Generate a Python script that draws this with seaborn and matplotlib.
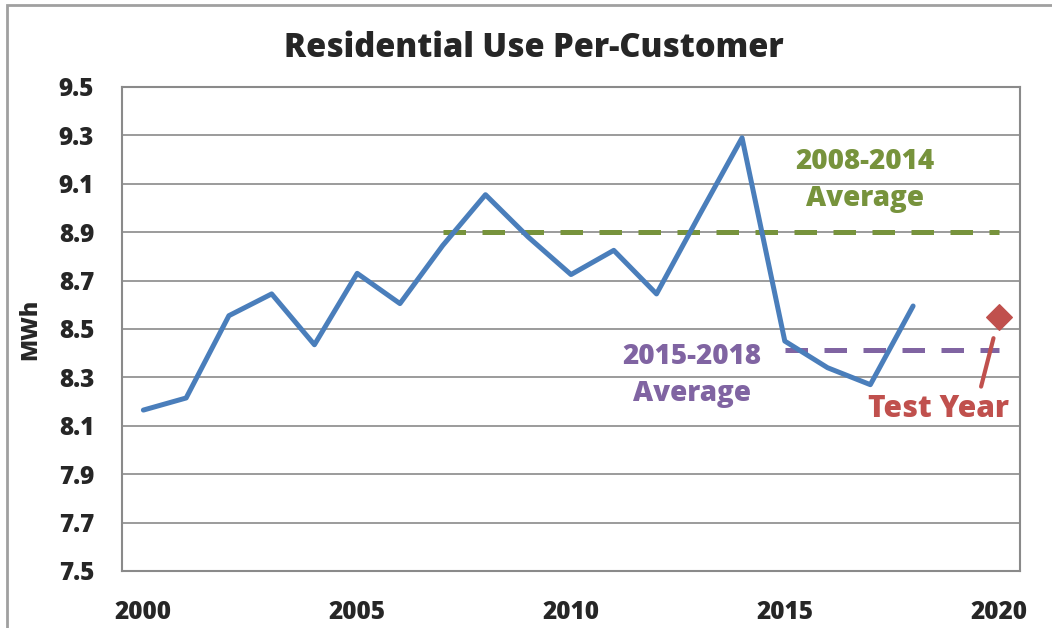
import pandas as pd
import seaborn as sns
import matplotlib.pyplot as plt
from matplotlib.patches import Rectangle

# residential use per customer (MWh), plotted at mid-year
years = [2000.5, 2001.5, 2002.5, 2003.5, 2004.5, 2005.5, 2006.5, 2007.5, 2008.5, 2009.5,
         2010.5, 2011.5, 2012.5, 2013.5, 2014.5, 2015.5, 2016.5, 2017.5, 2018.5]
use_mwh = [8.165, 8.215, 8.555, 8.645, 8.435, 8.73, 8.605, 8.845, 9.055, 8.88,
           8.725, 8.825, 8.645, 8.97, 9.29, 8.45, 8.34, 8.27, 8.595]

avg_0814_span = [2007.5, 2020.5]
avg_0814 = 8.9
avg_1518_span = [2015.5, 2020.5]
avg_1518 = 8.413
test_year = 2020.5
test_value = 8.548

xticks = [2000, 2005, 2010, 2015, 2020]
yticks = [7.5, 7.7, 7.9, 8.1, 8.3, 8.5, 8.7, 8.9, 9.1, 9.3, 9.5]

blue = "#4a7ebb"
green = "#77933c"
purple = "#8064a2"
red = "#c0504d"
grid = "#8a8a8a"
W = "extra bold"

sns.set_style("white")
plt.rcParams['font.family'] = ['Open Sans', 'DejaVu Sans']
plt.rcParams['font.weight'] = 'bold'

df = pd.DataFrame({"year": years, "MWh": use_mwh})

fig = plt.figure(figsize=(10.52, 6.28), dpi=100)
ax = fig.add_axes([122 / 1052, 1 - 571 / 628, (1020 - 122) / 1052, (571 - 87) / 628])

for y in yticks:
    ax.axhline(y, color=grid, lw=1.2, zorder=0)

sns.lineplot(data=df, x="year", y="MWh", ax=ax, color=blue, lw=3.6, zorder=3)

ax.plot(avg_0814_span, [avg_0814] * 2, color=green, lw=3.6,
        linestyle=(0, (4.5, 3.3)), zorder=2)
ax.plot(avg_1518_span, [avg_1518] * 2, color=purple, lw=3.6,
        linestyle=(0, (4.5, 3.3)), zorder=2)
ax.scatter([test_year], [test_value], marker="D", s=170, color=red, zorder=4)

ax.text(2017.38, 9.116, "2008-2014\nAverage", color=green, fontsize=20,
        fontweight=W, ha="center", va="center", linespacing=1.4)
ax.text(2013.33, 8.31, "2015-2018\nAverage", color=purple, fontsize=20,
        fontweight=W, ha="center", va="center", linespacing=1.4)
ax.text(2019.09, 8.17, "Test Year", color=red, fontsize=21.5,
        fontweight=W, ha="center", va="center")
ax.annotate("", xy=(2020.38, 8.462), xytext=(2020.09, 8.262),
            arrowprops=dict(arrowstyle="-", color=red, lw=3, shrinkA=0, shrinkB=0))

ax.set_xlim(2000, 2021)
ax.set_ylim(7.5, 9.5)
# ticks between categories, labels centred in the category (Excel style)
ax.set_xticks(xticks)
ax.set_xticklabels([])
ax.set_xticks([x + 0.5 for x in xticks], minor=True)
ax.set_xticklabels([str(x) for x in xticks], minor=True)
ax.set_yticks(yticks)
ax.set_yticklabels([f"{v:.1f}" for v in yticks])
ax.tick_params(axis="both", which="major", direction="out", length=7, width=1.5,
               color=grid, labelsize=17.5, pad=13)
ax.tick_params(axis="x", which="minor", length=0, labelsize=17.5, pad=21)
for lbl in ax.get_xticklabels(minor=True) + ax.get_yticklabels():
    lbl.set_fontweight(W)

for s in ax.spines.values():
    s.set_color(grid)
    s.set_linewidth(1.5)

ax.set_xlabel("")
ax.set_ylabel("MWh", fontsize=16.5, fontweight=W)
ax.yaxis.set_label_coords(-0.089, 0.5)

fig.text(534 / 1052, 1 - 48 / 628, "Residential Use Per-Customer", fontsize=23.5,
         fontweight=W, ha="center", va="center")

fig.patches.append(Rectangle((7 / 1052, -0.1), 1.2, 1.1 - 5 / 628, transform=fig.transFigure,
                             fill=False, edgecolor="#a0a0a0", lw=2, clip_on=False))

fig.savefig("out.png", dpi=100)
